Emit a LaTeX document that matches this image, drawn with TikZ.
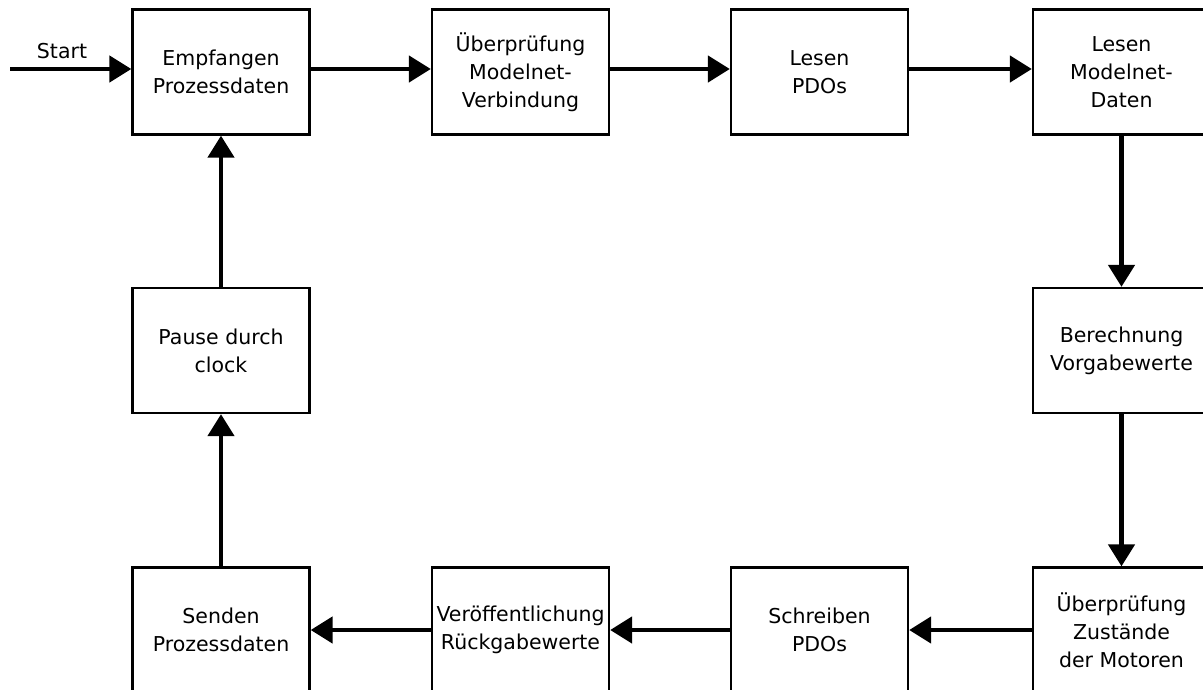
\documentclass[tikz,border=0pt]{standalone}
\usepackage{fontspec}
\setmainfont{DejaVu Sans}
\usetikzlibrary{arrows.meta}
\begin{document}
\begin{tikzpicture}[x=1pt,y=-1pt,
  proc/.style={draw, line width=2.3pt, minimum width=177pt, minimum height=125pt,
    inner sep=0pt, align=center, font=\fontsize{20.5}{28}\selectfont},
  flow/.style={line width=4.6pt, -{Triangle[length=22pt,width=26pt]}},
  lbl/.style={font=\fontsize{20.5}{28}\selectfont, inner sep=0pt}]
\useasboundingbox (0,0) rectangle (1203,689);

% top row
\node[proc] (empf)  at (221,72)    {Empfangen\\Prozessdaten};
\node[proc] (pruef) at (520.5,72)  {Überprüfung\\Modelnet-\\Verbindung};
\node[proc] (lpdo)  at (819.5,72)  {Lesen\\PDOs};
\node[proc] (lmod)  at (1121.5,72) {Lesen\\Modelnet-\\Daten};

% middle row
\node[proc] (pause) at (221,350.5)    {Pause durch\\clock};
\node[proc] (ber)   at (1121.5,350.5) {Berechnung\\Vorgabewerte};

% bottom row
\node[proc] (send)  at (221,630)    {Senden\\Prozessdaten};
\node[proc] (veroe) at (520.5,630)  {Veröffentlichung\\Rückgabewerte};
\node[proc] (spdo)  at (819.5,630)  {Schreiben\\PDOs};
\node[proc] (zust)  at (1121.5,630) {Überprüfung\\Zustände\\der Motoren};

% entry
\coordinate (start) at (10,69);
\node[lbl] (startlbl) at (62,51) {Start};
\draw[flow] (start) -- ([yshift=3pt]empf.west);

% loop
\draw[flow] ([yshift=3pt]empf.east)  -- ([yshift=3pt]pruef.west);
\draw[flow] ([yshift=3pt]pruef.east) -- ([yshift=3pt]lpdo.west);
\draw[flow] ([yshift=3pt]lpdo.east)  -- ([yshift=3pt]lmod.west);
\draw[flow] (lmod.south) -- (ber.north);
\draw[flow] (ber.south)  -- (zust.north);
\draw[flow] (zust.west)  -- (spdo.east);
\draw[flow] (spdo.west)  -- (veroe.east);
\draw[flow] (veroe.west) -- (send.east);
\draw[flow] (send.north) -- (pause.south);
\draw[flow] (pause.north) -- (empf.south);
\end{tikzpicture}
\end{document}
